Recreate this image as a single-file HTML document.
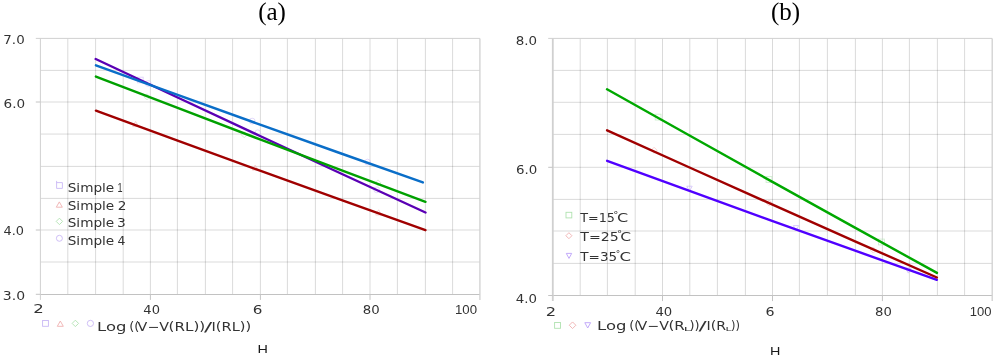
<!DOCTYPE html>
<html><head><meta charset="utf-8"><title>Charts</title><style>
html,body{margin:0;padding:0;background:#fff;width:1000px;height:362px;overflow:hidden}
svg{display:block}
.s{font-family:"DejaVu Sans","Liberation Sans",sans-serif;fill:#333333}
.t{font-family:"Liberation Serif","DejaVu Serif",serif;fill:#000}
</style></head><body>
<svg width="1000" height="362" viewBox="0 0 1000 362">
<rect width="1000" height="362" fill="#fff"/>
<line x1="40.40" y1="70.40" x2="479.90" y2="70.40" stroke="#000" stroke-width="1.0" stroke-opacity="0.145"/>
<line x1="40.40" y1="102.00" x2="479.90" y2="102.00" stroke="#000" stroke-width="1.0" stroke-opacity="0.145"/>
<line x1="40.40" y1="134.05" x2="479.90" y2="134.05" stroke="#000" stroke-width="1.0" stroke-opacity="0.145"/>
<line x1="40.40" y1="166.40" x2="479.90" y2="166.40" stroke="#000" stroke-width="1.0" stroke-opacity="0.145"/>
<line x1="40.40" y1="198.40" x2="479.90" y2="198.40" stroke="#000" stroke-width="1.0" stroke-opacity="0.145"/>
<line x1="40.40" y1="230.00" x2="479.90" y2="230.00" stroke="#000" stroke-width="1.0" stroke-opacity="0.145"/>
<line x1="40.40" y1="262.00" x2="479.90" y2="262.00" stroke="#000" stroke-width="1.0" stroke-opacity="0.145"/>
<line x1="67.80" y1="38.40" x2="67.80" y2="294.30" stroke="#000" stroke-width="1.0" stroke-opacity="0.145"/>
<line x1="95.60" y1="38.40" x2="95.60" y2="294.30" stroke="#000" stroke-width="1.0" stroke-opacity="0.145"/>
<line x1="123.20" y1="38.40" x2="123.20" y2="294.30" stroke="#000" stroke-width="1.0" stroke-opacity="0.145"/>
<line x1="150.40" y1="38.40" x2="150.40" y2="294.30" stroke="#000" stroke-width="1.0" stroke-opacity="0.145"/>
<line x1="177.40" y1="38.40" x2="177.40" y2="294.30" stroke="#000" stroke-width="1.0" stroke-opacity="0.145"/>
<line x1="205.40" y1="38.40" x2="205.40" y2="294.30" stroke="#000" stroke-width="1.0" stroke-opacity="0.145"/>
<line x1="232.60" y1="38.40" x2="232.60" y2="294.30" stroke="#000" stroke-width="1.0" stroke-opacity="0.145"/>
<line x1="260.40" y1="38.40" x2="260.40" y2="294.30" stroke="#000" stroke-width="1.0" stroke-opacity="0.145"/>
<line x1="287.40" y1="38.40" x2="287.40" y2="294.30" stroke="#000" stroke-width="1.0" stroke-opacity="0.145"/>
<line x1="315.40" y1="38.40" x2="315.40" y2="294.30" stroke="#000" stroke-width="1.0" stroke-opacity="0.145"/>
<line x1="342.60" y1="38.40" x2="342.60" y2="294.30" stroke="#000" stroke-width="1.0" stroke-opacity="0.145"/>
<line x1="370.00" y1="38.40" x2="370.00" y2="294.30" stroke="#000" stroke-width="1.0" stroke-opacity="0.145"/>
<line x1="397.40" y1="38.40" x2="397.40" y2="294.30" stroke="#000" stroke-width="1.0" stroke-opacity="0.145"/>
<line x1="425.40" y1="38.40" x2="425.40" y2="294.30" stroke="#000" stroke-width="1.0" stroke-opacity="0.145"/>
<line x1="452.60" y1="38.40" x2="452.60" y2="294.30" stroke="#000" stroke-width="1.0" stroke-opacity="0.145"/>
<line x1="35.80" y1="38.40" x2="479.90" y2="38.40" stroke="#d0d0d0" stroke-width="1.0"/>
<line x1="40.40" y1="294.50" x2="479.90" y2="294.50" stroke="#c2c2c2" stroke-width="1.0"/>
<line x1="40.40" y1="38.40" x2="40.40" y2="299.90" stroke="#d0d0d0" stroke-width="1.0"/>
<line x1="479.90" y1="38.40" x2="479.90" y2="299.90" stroke="#d0d0d0" stroke-width="1.3"/>
<line x1="35.80" y1="102.00" x2="40.40" y2="102.00" stroke="#c4c4c4" stroke-width="1.0"/>
<line x1="35.80" y1="230.00" x2="40.40" y2="230.00" stroke="#c4c4c4" stroke-width="1.0"/>
<line x1="35.80" y1="294.30" x2="40.40" y2="294.30" stroke="#c4c4c4" stroke-width="1.0"/>
<line x1="150.40" y1="294.30" x2="150.40" y2="299.90" stroke="#c4c4c4" stroke-width="1.0"/>
<line x1="260.40" y1="294.30" x2="260.40" y2="299.90" stroke="#c4c4c4" stroke-width="1.0"/>
<line x1="370.00" y1="294.30" x2="370.00" y2="299.90" stroke="#c4c4c4" stroke-width="1.0"/>
<line x1="552.80" y1="70.40" x2="992.20" y2="70.40" stroke="#000" stroke-width="1.0" stroke-opacity="0.145"/>
<line x1="552.80" y1="102.30" x2="992.20" y2="102.30" stroke="#000" stroke-width="1.0" stroke-opacity="0.145"/>
<line x1="552.80" y1="134.40" x2="992.20" y2="134.40" stroke="#000" stroke-width="1.0" stroke-opacity="0.145"/>
<line x1="552.80" y1="167.30" x2="992.20" y2="167.30" stroke="#000" stroke-width="1.0" stroke-opacity="0.145"/>
<line x1="552.80" y1="199.40" x2="992.20" y2="199.40" stroke="#000" stroke-width="1.0" stroke-opacity="0.145"/>
<line x1="552.80" y1="231.00" x2="992.20" y2="231.00" stroke="#000" stroke-width="1.0" stroke-opacity="0.145"/>
<line x1="552.80" y1="263.40" x2="992.20" y2="263.40" stroke="#000" stroke-width="1.0" stroke-opacity="0.145"/>
<line x1="580.20" y1="38.40" x2="580.20" y2="295.50" stroke="#000" stroke-width="1.0" stroke-opacity="0.145"/>
<line x1="607.40" y1="38.40" x2="607.40" y2="295.50" stroke="#000" stroke-width="1.0" stroke-opacity="0.145"/>
<line x1="635.20" y1="38.40" x2="635.20" y2="295.50" stroke="#000" stroke-width="1.0" stroke-opacity="0.145"/>
<line x1="662.50" y1="38.40" x2="662.50" y2="295.50" stroke="#000" stroke-width="1.0" stroke-opacity="0.145"/>
<line x1="689.80" y1="38.40" x2="689.80" y2="295.50" stroke="#000" stroke-width="1.0" stroke-opacity="0.145"/>
<line x1="717.40" y1="38.40" x2="717.40" y2="295.50" stroke="#000" stroke-width="1.0" stroke-opacity="0.145"/>
<line x1="745.40" y1="38.40" x2="745.40" y2="295.50" stroke="#000" stroke-width="1.0" stroke-opacity="0.145"/>
<line x1="772.50" y1="38.40" x2="772.50" y2="295.50" stroke="#000" stroke-width="1.0" stroke-opacity="0.145"/>
<line x1="799.40" y1="38.40" x2="799.40" y2="295.50" stroke="#000" stroke-width="1.0" stroke-opacity="0.145"/>
<line x1="827.40" y1="38.40" x2="827.40" y2="295.50" stroke="#000" stroke-width="1.0" stroke-opacity="0.145"/>
<line x1="855.40" y1="38.40" x2="855.40" y2="295.50" stroke="#000" stroke-width="1.0" stroke-opacity="0.145"/>
<line x1="882.40" y1="38.40" x2="882.40" y2="295.50" stroke="#000" stroke-width="1.0" stroke-opacity="0.145"/>
<line x1="909.40" y1="38.40" x2="909.40" y2="295.50" stroke="#000" stroke-width="1.0" stroke-opacity="0.145"/>
<line x1="937.40" y1="38.40" x2="937.40" y2="295.50" stroke="#000" stroke-width="1.0" stroke-opacity="0.145"/>
<line x1="964.60" y1="38.40" x2="964.60" y2="295.50" stroke="#000" stroke-width="1.0" stroke-opacity="0.145"/>
<line x1="548.20" y1="38.40" x2="992.20" y2="38.40" stroke="#d0d0d0" stroke-width="1.0"/>
<line x1="552.80" y1="295.50" x2="992.20" y2="295.50" stroke="#c2c2c2" stroke-width="1.0"/>
<line x1="552.80" y1="38.40" x2="552.80" y2="301.10" stroke="#d0d0d0" stroke-width="1.8"/>
<line x1="992.20" y1="38.40" x2="992.20" y2="301.10" stroke="#d0d0d0" stroke-width="1.3"/>
<line x1="548.20" y1="167.30" x2="552.80" y2="167.30" stroke="#c4c4c4" stroke-width="1.0"/>
<line x1="548.20" y1="295.50" x2="552.80" y2="295.50" stroke="#c4c4c4" stroke-width="1.0"/>
<line x1="662.50" y1="295.50" x2="662.50" y2="301.10" stroke="#c4c4c4" stroke-width="1.0"/>
<line x1="772.50" y1="295.50" x2="772.50" y2="301.10" stroke="#c4c4c4" stroke-width="1.0"/>
<line x1="882.40" y1="295.50" x2="882.40" y2="301.10" stroke="#c4c4c4" stroke-width="1.0"/>
<text class="t" x="272" y="20" font-size="25" text-anchor="middle">(a)</text>
<text class="t" x="785.5" y="20" font-size="25" text-anchor="middle">(b)</text>
<path d="M56.6,180.9 V188.4 H62.4 V182.6 H56.6" fill="none" stroke="#c9b8f5" stroke-width="0.9"/>
<polygon points="59.3,201.9 62.3,207.2 56.3,207.2" fill="none" stroke="#efb0b0" stroke-width="0.9" stroke-linejoin="round"/>
<polygon points="59.4,218.20000000000002 62.6,221.4 59.4,224.6 56.199999999999996,221.4" fill="none" stroke="#b0e2b0" stroke-width="0.9" stroke-linejoin="round"/>
<circle cx="59.4" cy="238.3" r="3.0" fill="none" stroke="#c9b8f5" stroke-width="0.9"/>
<rect x="42.6" y="320.5" width="5.8" height="5.8" fill="none" stroke="#c9b8f5" stroke-width="0.9"/>
<polygon points="60.3,321.0 63.3,326.3 57.3,326.3" fill="none" stroke="#efb0b0" stroke-width="0.9" stroke-linejoin="round"/>
<polygon points="75.35,320.2 78.55,323.4 75.35,326.59999999999997 72.14999999999999,323.4" fill="none" stroke="#b0e2b0" stroke-width="0.9" stroke-linejoin="round"/>
<circle cx="90.4" cy="323.4" r="3.1" fill="none" stroke="#c9b8f5" stroke-width="0.9"/>
<rect x="566.0" y="212.3" width="5.8" height="5.6" fill="none" stroke="#b0e2b0" stroke-width="0.9"/>
<polygon points="568.9,232.7 571.9,235.7 568.9,238.7 565.9,235.7" fill="none" stroke="#efb0b0" stroke-width="0.9" stroke-linejoin="round"/>
<polygon points="566.3,253.4 571.7,253.4 569.0,258.4" fill="none" stroke="#bca2f8" stroke-width="0.9" stroke-linejoin="round"/>
<rect x="554.6" y="322.5" width="5.9" height="5.8" fill="none" stroke="#b0e2b0" stroke-width="0.9"/>
<polygon points="572.55,321.95 575.8499999999999,325.25 572.55,328.55 569.25,325.25" fill="none" stroke="#efb0b0" stroke-width="0.9" stroke-linejoin="round"/>
<polygon points="584.8000000000001,322.7 590.6,322.7 587.7,328.0" fill="none" stroke="#bca2f8" stroke-width="0.9" stroke-linejoin="round"/>
<g opacity="0.6">
<rect x="137.6" y="77.2" width="5.6" height="5.6" fill="none" stroke="#c9b8f5" stroke-width="0.9"/>
<circle cx="148.3" cy="83.5" r="2.9" fill="none" stroke="#c9b8f5" stroke-width="0.9"/>
<circle cx="257.7" cy="132.8" r="2.9" fill="none" stroke="#c9b8f5" stroke-width="0.9"/>
<circle cx="376.7" cy="189.8" r="2.9" fill="none" stroke="#c9b8f5" stroke-width="0.9"/>
<circle cx="252.2" cy="121.1" r="2.9" fill="none" stroke="#c9b8f5" stroke-width="0.9"/>
<circle cx="367.6" cy="162.1" r="2.9" fill="none" stroke="#c9b8f5" stroke-width="0.9"/>
<polygon points="147.0,93.8 150.0,96.8 147.0,99.8 144.0,96.8" fill="none" stroke="#b0e2b0" stroke-width="0.9" stroke-linejoin="round"/>
<polygon points="244.2,131.7 247.2,134.7 244.2,137.7 241.2,134.7" fill="none" stroke="#b0e2b0" stroke-width="0.9" stroke-linejoin="round"/>
<polygon points="378.0,179.9 381.0,182.9 378.0,185.9 375.0,182.9" fill="none" stroke="#b0e2b0" stroke-width="0.9" stroke-linejoin="round"/>
<polygon points="135.6,121.4 138.5,126.6 132.7,126.6" fill="none" stroke="#efb0b0" stroke-width="0.9" stroke-linejoin="round"/>
<polygon points="255.2,165.0 258.09999999999997,170.2 252.29999999999998,170.2" fill="none" stroke="#efb0b0" stroke-width="0.9" stroke-linejoin="round"/>
<polygon points="378.6,209.8 381.5,215.0 375.70000000000005,215.0" fill="none" stroke="#efb0b0" stroke-width="0.9" stroke-linejoin="round"/>
<rect x="655.2" y="114.19999999999999" width="5.8" height="5.8" fill="none" stroke="#b0e2b0" stroke-width="0.9"/>
<rect x="766.1" y="176.6" width="5.8" height="5.8" fill="none" stroke="#b0e2b0" stroke-width="0.9"/>
<rect x="878.5" y="239.1" width="5.8" height="5.8" fill="none" stroke="#b0e2b0" stroke-width="0.9"/>
<polygon points="654.1,147.3 657.1,150.3 654.1,153.3 651.1,150.3" fill="none" stroke="#efb0b0" stroke-width="0.9" stroke-linejoin="round"/>
<polygon points="769.0,199.9 772.0,202.9 769.0,205.9 766.0,202.9" fill="none" stroke="#efb0b0" stroke-width="0.9" stroke-linejoin="round"/>
<polygon points="873.3,247.1 876.3,250.1 873.3,253.1 870.3,250.1" fill="none" stroke="#efb0b0" stroke-width="0.9" stroke-linejoin="round"/>
<polygon points="686.8,186.2 692.2,186.2 689.5,191.2" fill="none" stroke="#bca2f8" stroke-width="0.9" stroke-linejoin="round"/>
<polygon points="793.3,225.6 798.7,225.6 796.0,230.6" fill="none" stroke="#bca2f8" stroke-width="0.9" stroke-linejoin="round"/>
<polygon points="905.5999999999999,268.1 911.0,268.1 908.3,273.1" fill="none" stroke="#bca2f8" stroke-width="0.9" stroke-linejoin="round"/>
</g>
<polyline points="95.69,59.01 178.14,97.75 260.60,136.25 343.06,174.50 425.51,212.49" fill="none" stroke="#5a00b4" stroke-width="2.4" stroke-linecap="round" stroke-linejoin="round"/>
<polyline points="95.93,110.71 178.31,140.95 260.70,170.95 343.09,200.70 425.47,230.19" fill="none" stroke="#a00000" stroke-width="2.4" stroke-linecap="round" stroke-linejoin="round"/>
<polyline points="95.92,76.53 178.31,108.24 260.70,139.70 343.09,170.91 425.48,201.87" fill="none" stroke="#00a000" stroke-width="2.4" stroke-linecap="round" stroke-linejoin="round"/>
<polyline points="95.93,65.30 177.66,94.95 259.40,124.35 341.14,153.50 422.87,182.40" fill="none" stroke="#0a6ec8" stroke-width="2.4" stroke-linecap="round" stroke-linejoin="round"/>
<polyline points="607.13,160.81 689.56,190.93 772.00,220.80 854.44,250.42 936.87,279.79" fill="none" stroke="#5000ff" stroke-width="2.4" stroke-linecap="round" stroke-linejoin="round"/>
<polyline points="607.10,130.29 689.55,167.47 772.00,204.40 854.45,241.08 936.90,277.51" fill="none" stroke="#a00000" stroke-width="2.4" stroke-linecap="round" stroke-linejoin="round"/>
<polyline points="607.05,89.28 689.52,135.57 772.00,181.60 854.48,227.38 936.95,272.92" fill="none" stroke="#00a800" stroke-width="2.4" stroke-linecap="round" stroke-linejoin="round"/>
<text class="s" x="3.33" y="43.90" font-size="12.3" textLength="21.36" lengthAdjust="spacingAndGlyphs">7.0</text>
<text class="s" x="3.63" y="107.50" font-size="12.3" textLength="21.59" lengthAdjust="spacingAndGlyphs">6.0</text>
<text class="s" x="3.57" y="235.20" font-size="12.3" textLength="20.50" lengthAdjust="spacingAndGlyphs">4.0</text>
<text class="s" x="2.89" y="299.80" font-size="12.3" textLength="22.26" lengthAdjust="spacingAndGlyphs">3.0</text>
<text class="s" x="515.80" y="44.80" font-size="12.3" textLength="21.35" lengthAdjust="spacingAndGlyphs">8.0</text>
<text class="s" x="515.92" y="173.90" font-size="12.3" textLength="21.29" lengthAdjust="spacingAndGlyphs">6.0</text>
<text class="s" x="515.78" y="302.50" font-size="12.3" textLength="21.22" lengthAdjust="spacingAndGlyphs">4.0</text>
<text class="s" x="33.29" y="313.10" font-size="12.3" textLength="10.54" lengthAdjust="spacingAndGlyphs">2</text>
<text class="s" x="143.34" y="313.90" font-size="12.3" textLength="16.62" lengthAdjust="spacingAndGlyphs">40</text>
<text class="s" x="252.71" y="314.20" font-size="12.3" textLength="9.67" lengthAdjust="spacingAndGlyphs">6</text>
<text class="s" x="362.80" y="314.00" font-size="12.3" textLength="16.94" lengthAdjust="spacingAndGlyphs">80</text>
<text class="s" style="font-family:&quot;Liberation Sans&quot;,&quot;DejaVu Sans&quot;,sans-serif" x="454.97" y="313.80" font-size="12.3" textLength="22.04" lengthAdjust="spacingAndGlyphs">100</text>
<text class="s" x="545.71" y="315.80" font-size="12.3" textLength="10.33" lengthAdjust="spacingAndGlyphs">2</text>
<text class="s" x="655.46" y="315.80" font-size="12.3" textLength="16.85" lengthAdjust="spacingAndGlyphs">40</text>
<text class="s" x="765.49" y="315.80" font-size="12.3" textLength="9.06" lengthAdjust="spacingAndGlyphs">6</text>
<text class="s" x="875.13" y="315.60" font-size="12.3" textLength="16.84" lengthAdjust="spacingAndGlyphs">80</text>
<text class="s" style="font-family:&quot;Liberation Sans&quot;,&quot;DejaVu Sans&quot;,sans-serif" x="969.88" y="315.80" font-size="12.3" textLength="21.75" lengthAdjust="spacingAndGlyphs">100</text>
<text class="s" x="67.70" y="192.10" font-size="12.3" textLength="46.58" lengthAdjust="spacingAndGlyphs">Simple</text>
<text class="s" style="font-family:&quot;Liberation Sans&quot;,&quot;DejaVu Sans&quot;,sans-serif" x="117.41" y="192.10" font-size="12.3" textLength="5.06" lengthAdjust="spacingAndGlyphs">1</text>
<text class="s" x="67.70" y="209.90" font-size="12.3" textLength="46.58" lengthAdjust="spacingAndGlyphs">Simple</text>
<text class="s" x="117.84" y="209.90" font-size="12.3" textLength="8.69" lengthAdjust="spacingAndGlyphs">2</text>
<text class="s" x="67.70" y="227.10" font-size="12.3" textLength="46.58" lengthAdjust="spacingAndGlyphs">Simple</text>
<text class="s" x="117.10" y="227.10" font-size="12.3" textLength="8.77" lengthAdjust="spacingAndGlyphs">3</text>
<text class="s" x="67.70" y="245.10" font-size="12.3" textLength="46.58" lengthAdjust="spacingAndGlyphs">Simple</text>
<text class="s" x="117.42" y="245.10" font-size="12.3" textLength="7.89" lengthAdjust="spacingAndGlyphs">4</text>
<text class="s" x="580.24" y="221.50" font-size="12.0" textLength="34.71" lengthAdjust="spacingAndGlyphs">T=15</text>
<text class="s" x="613.33" y="217.60" font-size="8.0" textLength="5.13" lengthAdjust="spacingAndGlyphs">°</text>
<text class="s" x="616.98" y="221.50" font-size="12.0" textLength="11.20" lengthAdjust="spacingAndGlyphs">C</text>
<text class="s" x="580.27" y="240.80" font-size="12.0" textLength="38.39" lengthAdjust="spacingAndGlyphs">T=25</text>
<text class="s" x="616.92" y="237.37" font-size="8.0" textLength="5.13" lengthAdjust="spacingAndGlyphs">°</text>
<text class="s" x="620.32" y="240.80" font-size="12.0" textLength="10.83" lengthAdjust="spacingAndGlyphs">C</text>
<text class="s" x="580.27" y="260.70" font-size="12.0" textLength="36.89" lengthAdjust="spacingAndGlyphs">T=35</text>
<text class="s" x="615.88" y="257.10" font-size="8.0" textLength="4.49" lengthAdjust="spacingAndGlyphs">°</text>
<text class="s" x="619.40" y="260.70" font-size="12.0" textLength="11.52" lengthAdjust="spacingAndGlyphs">C</text>
<text class="s" x="97.08" y="330.90" font-size="12.1" textLength="29.36" lengthAdjust="spacingAndGlyphs">Log</text>
<text class="s" x="129.20" y="330.90" font-size="12.1" textLength="10.08" lengthAdjust="spacingAndGlyphs">((</text>
<text class="s" x="137.64" y="330.90" font-size="12.1" textLength="31.52" lengthAdjust="spacingAndGlyphs">V−V</text>
<text class="s" x="168.63" y="330.90" font-size="12.1" textLength="36.65" lengthAdjust="spacingAndGlyphs">(RL))</text>
<text class="s" x="203.95" y="330.90" font-size="12.1" textLength="8.23" lengthAdjust="spacingAndGlyphs">/</text>
<text class="s" x="211.55" y="330.90" font-size="12.1" textLength="39.60" lengthAdjust="spacingAndGlyphs">I(RL))</text>
<text class="s" x="597.08" y="329.70" font-size="12.1" textLength="29.36" lengthAdjust="spacingAndGlyphs">Log</text>
<text class="s" x="629.20" y="329.70" font-size="12.1" textLength="10.08" lengthAdjust="spacingAndGlyphs">((</text>
<text class="s" x="637.64" y="329.70" font-size="12.1" textLength="31.34" lengthAdjust="spacingAndGlyphs">V−V</text>
<text class="s" x="668.47" y="329.70" font-size="12.1" textLength="16.36" lengthAdjust="spacingAndGlyphs">(R</text>
<text class="s" x="683.75" y="330.70" font-size="5.6" textLength="7.43" lengthAdjust="spacingAndGlyphs">L</text>
<text class="s" x="689.47" y="329.70" font-size="12.1" textLength="10.09" lengthAdjust="spacingAndGlyphs">))</text>
<text class="s" x="698.46" y="329.70" font-size="12.1" textLength="8.21" lengthAdjust="spacingAndGlyphs">/</text>
<text class="s" x="706.56" y="329.70" font-size="12.1" textLength="19.52" lengthAdjust="spacingAndGlyphs">I(R</text>
<text class="s" x="725.55" y="330.70" font-size="5.6" textLength="6.13" lengthAdjust="spacingAndGlyphs">L</text>
<text class="s" x="731.00" y="329.70" font-size="12.1" textLength="8.95" lengthAdjust="spacingAndGlyphs">))</text>
<text x="257.6" y="353.2" font-family='"Liberation Sans","DejaVu Sans",sans-serif' font-size="11.3" fill="#1a1a1a" textLength="10.4" lengthAdjust="spacingAndGlyphs">H</text>
<text x="770.0" y="355.2" font-family='"Liberation Sans","DejaVu Sans",sans-serif' font-size="11.3" fill="#1a1a1a" textLength="10.4" lengthAdjust="spacingAndGlyphs">H</text>
</svg></body></html>
